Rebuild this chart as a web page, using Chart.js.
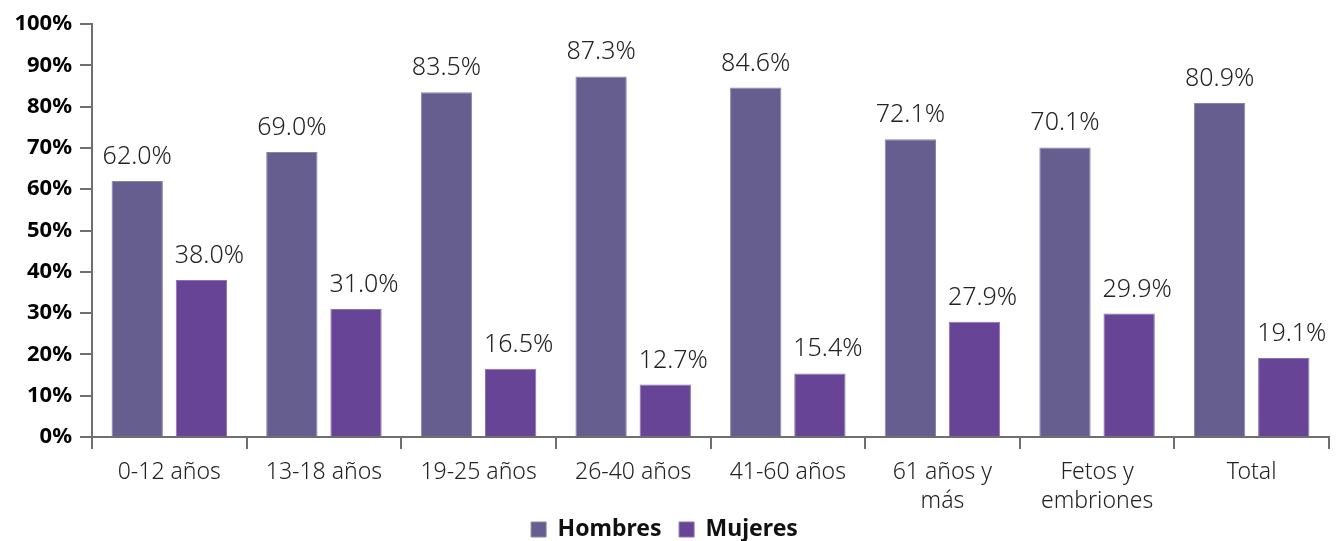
<!DOCTYPE html>
<html>
<head>
<meta charset="utf-8">
<script src="https://cdn.jsdelivr.net/npm/chart.js@4"></script>
<style>
  html, body { margin: 0; padding: 0; background: #fff; }
  #wrap { width: 1339px; height: 541px; }
</style>
</head>
<body>
<div id="wrap"><canvas id="chart"></canvas></div>
<script>
const categories = ['0-12 años', '13-18 años', '19-25 años', '26-40 años', '41-60 años', ['61 años y', 'más'], ['Fetos y', 'embriones'], 'Total'];
const hombres = [62.0, 69.0, 83.5, 87.3, 84.6, 72.1, 70.1, 80.9];
const mujeres = [38.0, 31.0, 16.5, 12.7, 15.4, 27.9, 29.9, 19.1];
const yTicks = [0, 10, 20, 30, 40, 50, 60, 70, 80, 90, 100];

const axisGray = '#6f6f6f';
const fontFamily = '"Noto Sans", "Open Sans", sans-serif';

// labels above bars
const barLabels = {
    id: 'barLabels',
    afterDatasetsDraw(chart) {
        const ctx = chart.ctx;
        ctx.save();
        ctx.font = '300 25px ' + fontFamily;
        ctx.fillStyle = '#222';
        ctx.textAlign = 'center';
        ctx.textBaseline = 'alphabetic';
        chart.data.datasets.forEach((ds, i) => {
            const meta = chart.getDatasetMeta(i);
            const dx = i === 1 ? 8 : 0;
            meta.data.forEach((bar, j) => {
                ctx.fillText(ds.data[j].toFixed(1) + '%', bar.x + dx, bar.y - 17);
            });
        });
        ctx.restore();
    }
};

new Chart(document.getElementById('chart').getContext('2d'), {
    type: 'bar',
    data: {
        labels: categories,
        datasets: [{
            label: 'Hombres',
            data: hombres,
            backgroundColor: '#655e8f',
            borderColor: '#8a84ad',
            borderWidth: 1,
            categoryPercentage: 0.83,
            barPercentage: 0.8
        }, {
            label: 'Mujeres',
            data: mujeres,
            backgroundColor: '#674495',
            borderColor: '#8c72b0',
            borderWidth: 1,
            categoryPercentage: 0.83,
            barPercentage: 0.8
        }]
    },
    options: {
        responsive: true,
        maintainAspectRatio: false,
        animation: false,
        layout: { padding: { top: 24, right: 10, left: 0, bottom: -10 } },
        plugins: {
            tooltip: { enabled: false },
            legend: {
                position: 'bottom',
                labels: {
                    color: '#111',
                    font: { family: fontFamily, size: 23, weight: 'bold' },
                    boxWidth: 15,
                    boxHeight: 15,
                    padding: 0,
                    generateLabels(chart) {
                        const items = Chart.defaults.plugins.legend.labels.generateLabels(chart);
                        // spacing between legend items
                        items.forEach((it, i) => { if (i < items.length - 1) it.text = it.text + '\u2002 '; });
                        return items;
                    }
                }
            }
        },
        scales: {
            x: {
                grid: {
                    display: true,
                    drawOnChartArea: false,
                    tickLength: 12,
                    color: axisGray,
                    lineWidth: 2,
                    offset: true
                },
                border: { color: axisGray, width: 2 },
                ticks: {
                    color: '#222',
                    font: { family: fontFamily, size: 23, weight: '300', lineHeight: 1.25 },
                    padding: 9,
                    maxRotation: 0
                },
                afterFit(scale) { scale.height = 81; }
            },
            y: {
                min: 0,
                max: 100,
                afterBuildTicks(scale) { scale.ticks = yTicks.map(v => ({ value: v })); },
                grid: {
                    display: true,
                    drawOnChartArea: false,
                    tickLength: 12,
                    color: axisGray,
                    lineWidth: 2
                },
                border: { color: axisGray, width: 2 },
                ticks: {
                    color: '#000',
                    font: { family: fontFamily, size: 22, weight: 'bold' },
                    padding: 8,
                    callback: v => v + '%'
                },
                afterFit(scale) { scale.width = 92; }
            }
        }
    },
    plugins: [barLabels]
});
</script>
</body>
</html>
